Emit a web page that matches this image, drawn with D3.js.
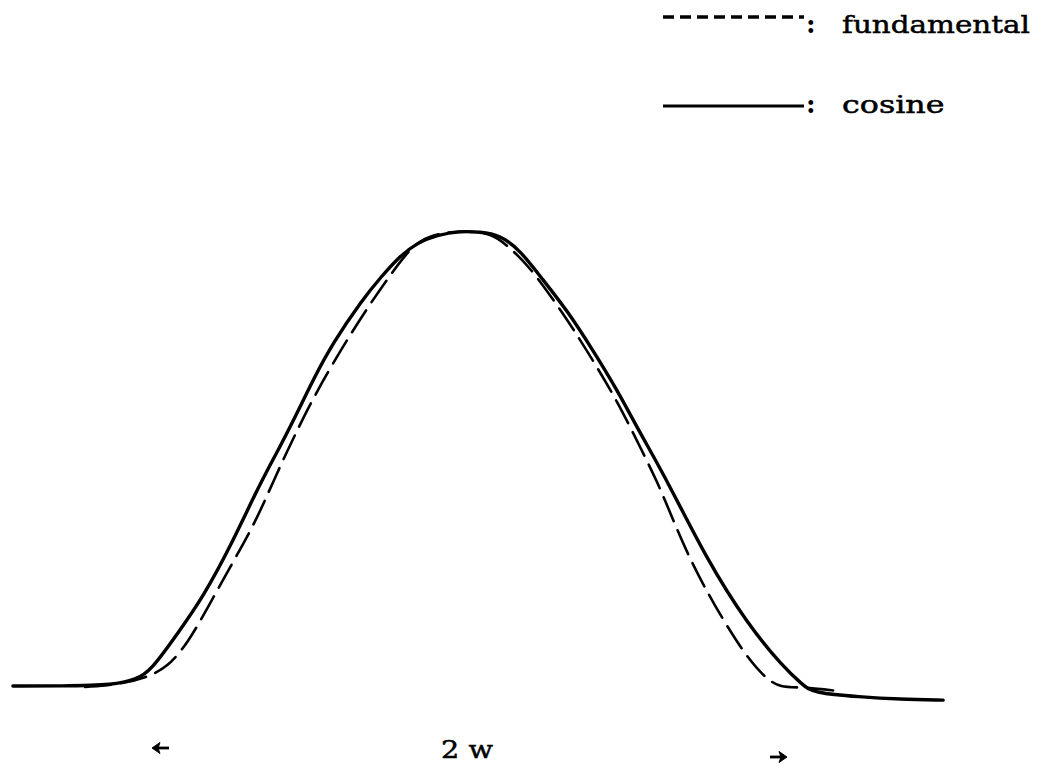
<!DOCTYPE html>
<html>
<head>
<meta charset="utf-8">
<script src="https://cdn.jsdelivr.net/npm/d3@7"></script>
<style>
  html, body { margin: 0; padding: 0; background: #fff; }
  svg { display: block; }
</style>
</head>
<body>
<svg id="chart" width="1046" height="769"></svg>
<script>
// Pulse shapes, x in units of the half-width w (centre at 0), y normalised to the peak.
const cosineX = [-1.436, -1.288, -1.116, -1.050, -1.006, -0.912, -0.840, -0.755, -0.661, -0.599,
  -0.536, -0.495, -0.433, -0.342, -0.282, -0.226, -0.169, -0.107, -0.034, 0.028, 0.091, 0.154,
  0.226, 0.301, 0.382, 0.458, 0.530, 0.614, 0.740, 0.865, 0.978, 1.041, 1.072, 1.219, 1.345, 1.480];
const cosineY = [0, 0, 0.002, 0.015, 0.031, 0.123, 0.196, 0.305, 0.446, 0.525,
  0.613, 0.673, 0.754, 0.848, 0.899, 0.943, 0.974, 0.991, 1.0, 0.998, 0.991, 0.958,
  0.892, 0.826, 0.738, 0.651, 0.556, 0.453, 0.277, 0.138, 0.042, 0.002, -0.015, -0.024, -0.029, -0.031];

const fundamentalX = [-1.21, -1.10, -1.02, -0.953, -0.887, -0.824, -0.746, -0.677, -0.614, -0.545,
  -0.473, -0.357, -0.260, -0.201, -0.160, -0.097, -0.019, 0.060, 0.113, 0.179, 0.254, 0.317,
  0.395, 0.461, 0.524, 0.586, 0.630, 0.687, 0.762, 0.859, 0.922, 0.969, 1.041, 1.147];
const fundamentalY = [-0.002, 0.004, 0.018, 0.040, 0.095, 0.174, 0.273, 0.358, 0.459, 0.563,
  0.662, 0.798, 0.897, 0.952, 0.980, 0.996, 1.0, 0.996, 0.969, 0.925, 0.853, 0.789,
  0.701, 0.622, 0.534, 0.446, 0.371, 0.277, 0.178, 0.068, 0.018, -0.004, -0.002, -0.011];

const legendLabels = ["fundamental", "cosine"];
const widthLabel = "2 w";
const widthMarks = [-1.0, 1.0];

const svg = d3.select("#chart");

const x = d3.scaleLinear().domain([-1.5, 1.5]).range([-7.5, 949.5]);
const y = d3.scaleLinear().domain([0, 1]).range([686, 231]);

const line = d3.line()
  .x(d => x(d[0]))
  .y(d => y(d[1]))
  .curve(d3.curveBasis);

const cosinePts = d3.zip(cosineX, cosineY);
const fundamentalPts = d3.zip(fundamentalX, fundamentalY);

svg.append("path")
  .attr("d", line(fundamentalPts))
  .attr("fill", "none")
  .attr("stroke", "#000")
  .attr("stroke-width", 2.6)
  .attr("stroke-dasharray", "26,10")
  .attr("stroke-linecap", "round");

svg.append("path")
  .attr("d", line(cosinePts))
  .attr("fill", "none")
  .attr("stroke", "#000")
  .attr("stroke-width", 3.4)
  .attr("stroke-linecap", "round");

// Legend
const legend = svg.append("g");
const legendRows = [
  { label: legendLabels[0], dash: "11,6", y: 17, textY: 33, width: 3.4 },
  { label: legendLabels[1], dash: null, y: 106, textY: 113, width: 2.8 }
];

// Serif label stretched horizontally to a given width, like wide typewriter type.
function wideText(g, str, x0, yb, width, size) {
  const t = g.append("text")
    .attr("font-family", "DejaVu Serif")
    .attr("font-size", size)
    .attr("stroke", "#000")
    .attr("stroke-width", 0.5)
    .text(str);
  const natural = t.node().getComputedTextLength();
  t.attr("transform", `translate(${x0},${yb}) scale(${width / natural},1)`);
  return t;
}

legendRows.forEach(r => {
  legend.append("line")
    .attr("x1", 663).attr("x2", 804)
    .attr("y1", r.y).attr("y2", r.y)
    .attr("stroke", "#000")
    .attr("stroke-width", r.width)
    .attr("stroke-dasharray", r.dash);
  legend.append("text")
    .attr("x", 806).attr("y", r.textY)
    .attr("font-family", "DejaVu Serif")
    .attr("font-size", 26)
    .attr("font-weight", "bold")
    .text(":");
  wideText(legend, r.label, 842, r.textY, r.label.length * 17.1, 25);
});

// Width annotation beneath the pulse
wideText(svg, widthLabel, 441, 758, 52, 25);

const arrowY = [748, 757];
widthMarks.forEach((m, i) => {
  const tip = x(m) + (m < 0 ? 0 : -3);
  const dir = m < 0 ? 1 : -1;
  const cy = arrowY[i];
  svg.append("line")
    .attr("x1", tip + dir * 4).attr("x2", tip + dir * 17)
    .attr("y1", cy).attr("y2", cy)
    .attr("stroke", "#000").attr("stroke-width", 2.8);
  svg.append("path")
    .attr("d", `M${tip},${cy} L${tip + dir * 8},${cy - 5.5} L${tip + dir * 6},${cy} L${tip + dir * 8},${cy + 5.5} Z`)
    .attr("fill", "#000")
    .attr("stroke", "#000")
    .attr("stroke-width", 1);
});
</script>
</body>
</html>
